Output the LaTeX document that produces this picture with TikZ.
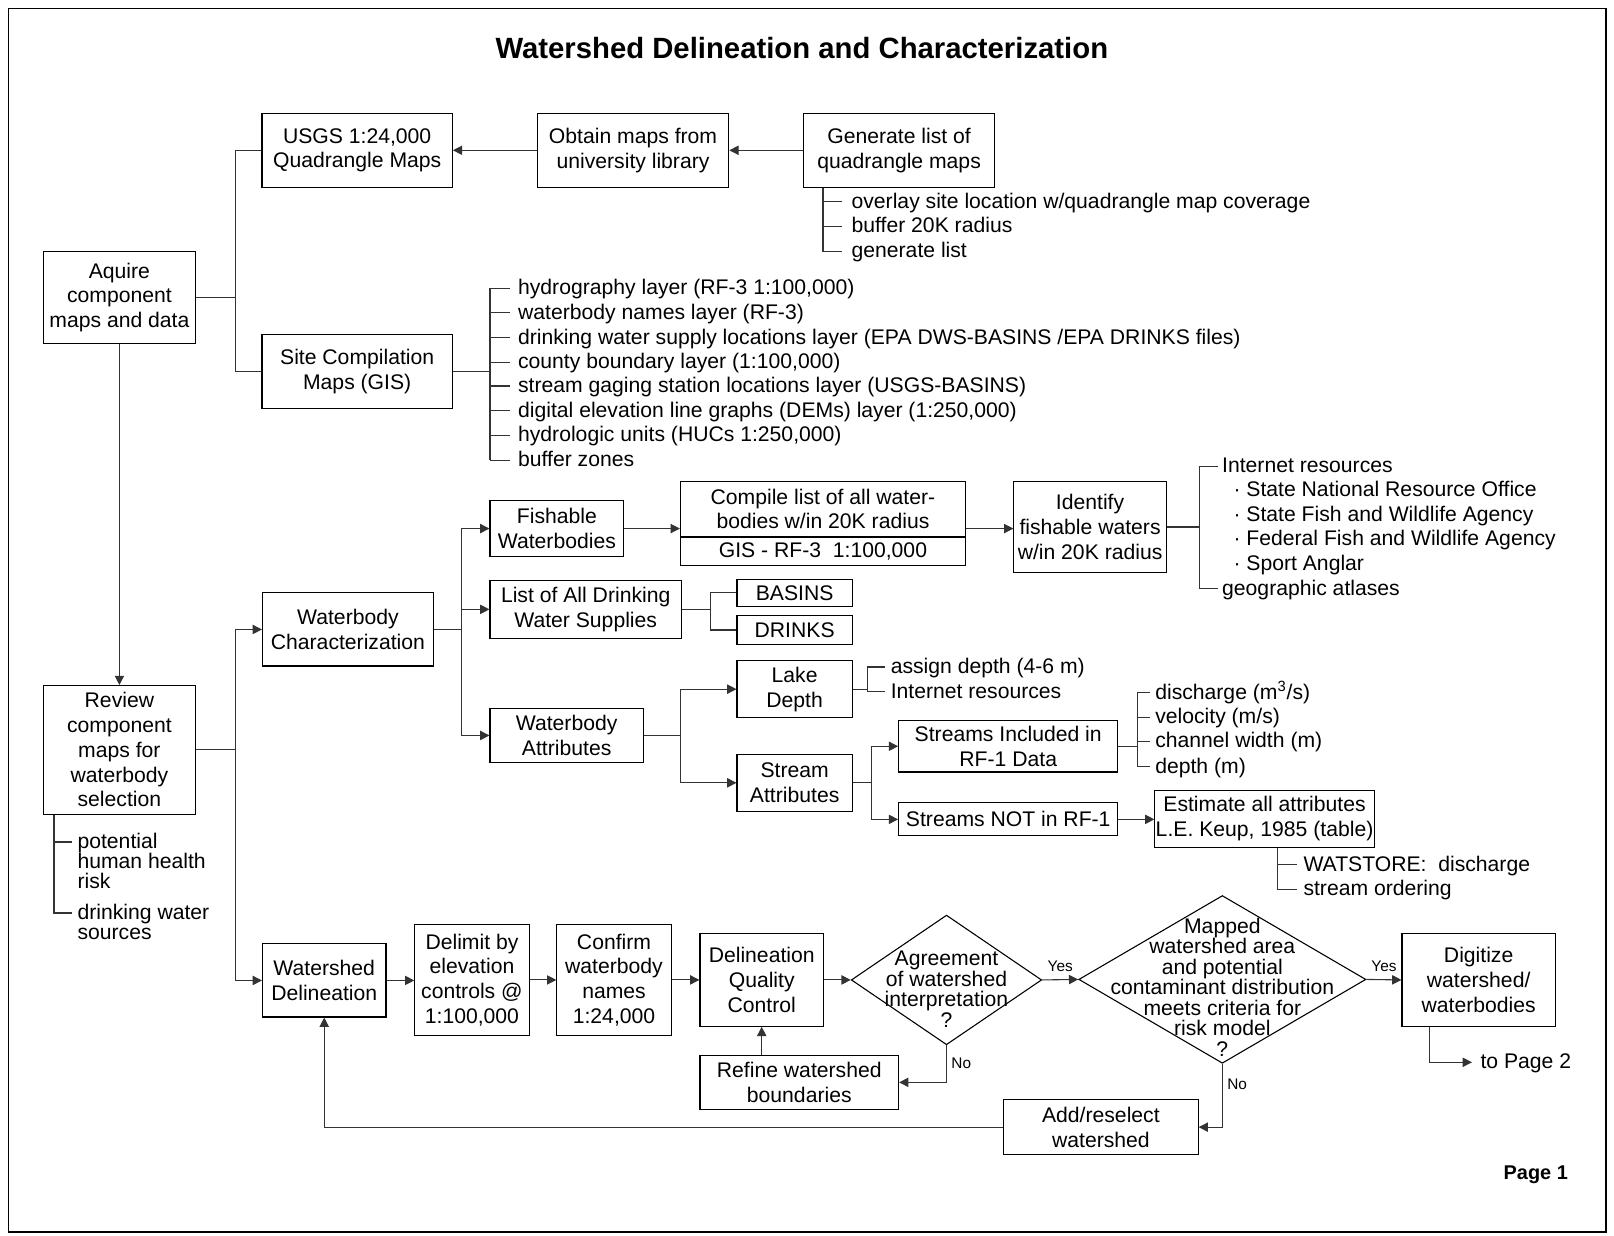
\documentclass[tikz,border=0pt]{standalone}
\usepackage{fontspec}
\setmainfont{Liberation Sans}
\usetikzlibrary{shapes.geometric, arrows.meta}
\tikzset{
  bx/.style={draw, align=center, inner sep=0pt, line width=0.6pt,
             font=\fontsize{11.7}{13.7}\selectfont},
  dc/.style={draw, diamond, inner sep=0pt, line width=0.6pt},
  dtx/.style={align=center, inner sep=0pt, font=\fontsize{11.7}{11.3}\selectfont},
  ln/.style={draw=black!80, line width=0.6pt},
  tr/.style={ln, -{Triangle[length=1.8mm, width=1.8mm]}},
  lst/.style={anchor=west, inner sep=0pt, text height=9.6pt, text depth=2.4pt,
              font=\fontsize{11.7}{13.7}\selectfont},
  lst2/.style={anchor=north west, inner sep=0pt, align=left,
               font=\fontsize{11.7}{11.2}\selectfont},
  lbl/.style={inner sep=0pt, font=\fontsize{8.5}{10}\selectfont}
}

\begin{document}
\begin{tikzpicture}[x=0.02cm, y=-0.02cm]
  \useasboundingbox (0,0) rectangle (1568,1200);
  \draw[line width=0.8pt] (8,8) rectangle (1560,1197);
  \node[font=\fontsize{16.2}{19}\selectfont\bfseries] (title) at (779,47) {Watershed Delineation and Characterization};
  \node[font=\fontsize{11}{13}\selectfont\bfseries] (pg) at (1492,1141) {Page 1};
  % Component maps
  \node[bx, minimum width=3.70cm, minimum height=1.44cm] (usgs) at (347,146) {USGS 1:24,000\\Quadrangle Maps};
  \node[bx, minimum width=3.72cm, minimum height=1.44cm] (obt) at (615,146) {Obtain maps from\\university library};
  \node[bx, minimum width=3.70cm, minimum height=1.44cm] (gen) at (873.5,146) {Generate list of\\quadrangle maps};
  \node[bx, minimum width=2.96cm, minimum height=1.78cm] (aq) at (116,289) {Aquire\\component\\maps and data};
  \node[bx, minimum width=3.70cm, minimum height=1.44cm] (site) at (347,361) {Site Compilation\\Maps (GIS)};
  \draw[tr] (gen.west) -- (obt.east);
  \draw[tr] (obt.west) -- (usgs.east);
  \draw[ln, line width=1pt] (aq.east) -- ++(38,0);
  \draw[ln] (aq.east) -- ++(38,0) |- (usgs.west);
  \draw[ln] (aq.east) -- ++(38,0) |- (site.west);
  \node[lst] (g1) at (827,196) {overlay site location w/quadrangle map coverage};
  \node[lst] (g2) at (827,220) {buffer 20K radius};
  \node[lst] (g3) at (827,244) {generate list};
  \draw[ln] ([shift={(19,0)}]gen.south west) |- ([shift={(-9,0)}]g3.west);
  \foreach \i in {1,2}
    \draw[ln] ([shift={(-9,0)}]g\i.west) -- ++(-18,0);
  \node[lst] (s1) at (503,280) {hydrography layer (RF-3 1:100,000)};
  \node[lst] (s2) at (503,304) {waterbody names layer (RF-3)};
  \node[lst] (s3) at (503,328) {drinking water supply locations layer (EPA DWS-BASINS /EPA DRINKS files)};
  \node[lst] (s4) at (503,352) {county boundary layer (1:100,000)};
  \node[lst] (s5) at (503,375) {stream gaging station locations layer (USGS-BASINS)};
  \node[lst] (s6) at (503,399) {digital elevation line graphs (DEMs) layer (1:250,000)};
  \node[lst] (s7) at (503,423) {hydrologic units (HUCs 1:250,000)};
  \node[lst] (s8) at (503,447) {buffer zones};
  \draw[ln] (site.east) -- ([shift={(-27,0)}]site.east -| s1.west);
  \draw[ln] ([shift={(-27,0)}]s1.west) -- ([shift={(-27,0)}]s8.west);
  \foreach \i in {1,...,8}
    \draw[ln] ([shift={(-8,0)}]s\i.west) -- ++(-19,0);
  % Review
  \node[bx, minimum width=2.96cm, minimum height=2.50cm] (rv) at (116,728.5) {Review\\component\\maps for\\waterbody\\selection};
  \draw[tr] (aq.south) -- (rv.north);
  \node[lst2] (pot) at (75,809) {potential\\human health\\risk};
  \node[lst2] (src) at (75,878) {drinking water\\sources};
  \draw[ln] ([shift={(11,0)}]rv.south west) |- ([shift={(-5,9)}]pot.north west);
  \draw[ln] ([shift={(11,0)}]rv.south west) |- ([shift={(-5,9)}]src.north west);
  \node[bx, minimum width=3.32cm, minimum height=1.42cm] (wc) at (338,611.5) {Waterbody\\Characterization};
  \node[bx, minimum width=2.40cm, minimum height=1.42cm] (wd) at (315,952.5) {Watershed\\Delineation};
  \draw[tr] (rv.east) -- ++(38,0) |- (wc.west);
  \draw[tr] (rv.east) -- ++(38,0) |- (wd.west);
  % Waterbody characterization
  \node[bx, minimum width=2.60cm, minimum height=1.10cm] (fw) at (541,513.5) {Fishable\\Waterbodies};
  \node[bx, minimum width=3.72cm, minimum height=1.12cm] (ld) at (569,592) {List of All Drinking\\Water Supplies};
  \node[bx, minimum width=2.98cm, minimum height=1.06cm] (wa) at (550.5,714.5) {Waterbody\\Attributes};
  \draw[tr] (wc.east) -- ++(27,0) |- (fw.west);
  \draw[tr] (wc.east) -- ++(27,0) |- (ld.west);
  \draw[tr] (wc.east) -- ++(27,0) |- (wa.west);
  \node[bx, minimum width=5.54cm, minimum height=1.06cm] (cl) at (799.5,494.5) {Compile list of all water-\\bodies w/in 20K radius};
  \node[bx, minimum width=5.54cm, minimum height=0.54cm, anchor=north] (clg) at (cl.south) {GIS - RF-3\ \ 1:100,000};
  \node[bx, minimum width=2.96cm, minimum height=1.76cm] (id) at (1059,512) {Identify\\fishable waters\\w/in 20K radius};
  \draw[tr] (fw.east) -- (fw.east -| cl.west);
  \draw[tr] (fw.east -| cl.east) -- (fw.east -| id.west);
  \node[lst] (i1) at (1187,453) {Internet resources};
  \node[lst] (i2) at (1198,476) {· State National Resource Office};
  \node[lst] (i3) at (1198,500) {· State Fish and Wildlife Agency};
  \node[lst] (i4) at (1198,524) {· Federal Fish and Wildlife Agency};
  \node[lst] (i5) at (1198,548) {· Sport Anglar};
  \node[lst] (i6) at (1187,572) {geographic atlases};
  \draw[ln] (id.east) -- ([shift={(-22,0)}]id.east -| i1.west);
  \draw[ln] ([shift={(-4,0)}]i1.west) -| ([shift={(-22,0)}]i6.west) -- ([shift={(-4,0)}]i6.west);
  \node[bx, minimum width=2.24cm, minimum height=0.52cm] (bas) at (772,576) {BASINS};
  \node[bx, minimum width=2.24cm, minimum height=0.56cm] (drk) at (772,612) {DRINKS};
  \draw[ln] (ld.east) -- ++(28,0) |- (bas.west);
  \draw[ln] (ld.east) -- ++(28,0) |- (drk.west);
  % Waterbody attributes
  \node[bx, minimum width=2.24cm, minimum height=1.10cm] (lk) at (772,669.5) {Lake\\Depth};
  \node[bx, minimum width=2.24cm, minimum height=1.10cm] (sa) at (772,760.5) {Stream\\Attributes};
  \draw[tr] (wa.east) -- ++(36,0) |- (lk.west);
  \draw[tr] (wa.east) -- ++(36,0) |- (sa.west);
  \node[lst] (k1) at (865,648) {assign depth (4-6 m)};
  \node[lst] (k2) at (865,672) {Internet resources};
  \draw[ln] (lk.east) -- ([shift={(-22,0)}]lk.east -| k1.west);
  \draw[ln] ([shift={(-5,0)}]k1.west) -| ([shift={(-22,0)}]k2.west) -- ([shift={(-5,0)}]k2.west);
  \node[bx, minimum width=4.26cm, minimum height=1.00cm] (si) at (979.5,725) {Streams Included in\\RF-1 Data};
  \node[bx, minimum width=4.26cm, minimum height=0.64cm] (sn) at (979.5,796) {Streams NOT in RF-1};
  \draw[tr] (sa.east) -- ++(18,0) |- (si.west);
  \draw[tr] (sa.east) -- ++(18,0) |- (sn.west);
  \node[lst] (d1) at (1122,673) {discharge (m\textsuperscript{3}/s)};
  \node[lst] (d2) at (1122,697) {velocity (m/s)};
  \node[lst] (d3) at (1122,720) {channel width (m)};
  \node[lst] (d4) at (1122,745) {depth (m)};
  \draw[ln] (si.east) -- ([shift={(-17,0)}]si.east -| d1.west);
  \draw[ln] ([shift={(-17,0)}]d1.west) -- ([shift={(-17,0)}]d4.west);
  \foreach \i in {1,...,4}
    \draw[ln] ([shift={(-5,0)}]d\i.west) -- ++(-12,0);
  \node[bx, minimum width=4.26cm, minimum height=1.10cm] (est) at (1228.5,795.5) {Estimate all attributes\\L.E. Keup, 1985 (table)};
  \draw[tr] (sn.east) -- (sn.east -| est.west);
  \node[lst] (w1) at (1266,840) {WATSTORE:\ \ discharge};
  \node[lst] (w2) at (1266,864) {stream ordering};
  \draw[ln] ([shift={(120,0)}]est.south west) |- ([shift={(-6,0)}]w2.west);
  \draw[ln] ([shift={(-6,0)}]w1.west) -- ++(-18,0);
  % Watershed delineation
  \node[bx, minimum width=2.22cm, minimum height=2.16cm] (dl) at (458.5,952) {Delimit by\\elevation\\controls @\\1:100,000};
  \node[bx, minimum width=2.22cm, minimum height=2.16cm] (cf) at (596.5,952) {Confirm\\waterbody\\names\\1:24,000};
  \node[bx, minimum width=2.40cm, minimum height=1.80cm] (qc) at (740,952) {Delineation\\Quality\\Control};
  \node[dc, minimum width=3.70cm, minimum height=2.52cm] (ag) at (919.5,952) {};
  \node[dtx] (agt) at (919.5,961) {Agreement\\of watershed\\interpretation\\?};
  \node[dc, minimum width=5.58cm, minimum height=3.26cm] (mp) at (1187.5,951.5) {};
  \node[dtx] (mpt) at (1187.5,959) {Mapped\\watershed area\\and potential\\contaminant distribution\\meets criteria for\\risk model\\?};
  \node[bx, minimum width=2.98cm, minimum height=1.80cm] (dg) at (1436.5,952) {Digitize\\watershed/\\waterbodies};
  \node[bx, minimum width=3.86cm, minimum height=1.06cm] (rf) at (776.5,1051.5) {Refine watershed\\boundaries};
  \node[bx, minimum width=3.78cm, minimum height=1.08cm] (ad) at (1069.5,1095) {Add/reselect\\watershed};
  \node[lst] (tp) at (1438,1032) {to Page 2};
  \draw[tr] (wd.east) -- (dl.west |- wd.east);
  \draw[tr] (dl.east) -- (cf.west);
  \draw[tr] (cf.east) -- (qc.west);
  \draw[tr] (qc.east) -- (ag.west);
  \draw[tr] (ag.east) -- node[lbl, above=4pt] (y1) {Yes} (mp.west);
  \draw[tr] (mp.east) -- node[lbl, above=4pt] (y2) {Yes} (dg.west);
  \draw[tr] ([shift={(27,0)}]dg.south west) |- ([shift={(-8,0)}]tp.west);
  \draw[tr] (ag.south) |- (rf.east);
  \node[lbl, anchor=west] (n1) at (924,1033) {No};
  \draw[tr] (rf.north -| qc.south) -- (qc.south);
  \draw[tr] (mp.south) |- (ad.east);
  \node[lbl, anchor=west] (n2) at (1192,1053) {No};
  \draw[tr] (ad.west) -| (wd.south);
\end{tikzpicture}
\end{document}
